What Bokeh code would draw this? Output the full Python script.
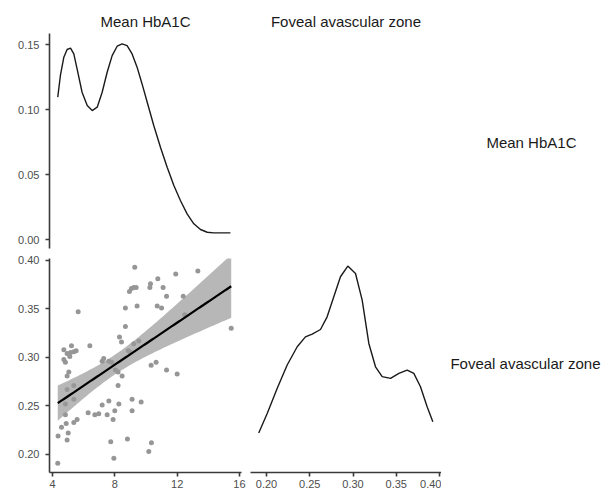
import numpy as np
from bokeh.plotting import figure
from bokeh.layouts import row, column
from bokeh.models import Range1d, FixedTicker, NumeralTickFormatter
from bokeh.embed import file_html
from bokeh.resources import INLINE
from bokeh.core.properties import value

# ---------------- data ----------------
var_names = ["Mean HbA1C", "Foveal avascular zone"]

hba1c = [4.34, 4.36, 4.58, 4.88, 5.01, 4.94, 4.83, 4.83, 4.94, 5.37,
         5.37, 5.37, 5.58, 6.29, 6.72, 6.97, 7.19, 7.51, 7.62, 7.89,
         8.00, 8.26, 9.11, 9.11, 9.69, 7.74, 7.94, 8.81, 10.35, 10.18,
         4.83, 5.05, 4.94, 4.73, 4.73, 4.94, 5.16, 5.22, 5.37, 5.52,
         5.11, 5.65, 6.40, 7.19, 7.29, 7.62, 7.79, 8.04, 8.21, 8.47,
         8.21, 8.30, 8.43, 8.68, 8.68, 8.94, 9.07, 9.22, 9.37, 9.28,
         9.43, 8.86, 8.96, 9.22, 9.54, 10.29, 10.25, 10.76, 11.10, 11.32,
         10.72, 11.00, 11.91, 12.39, 12.49, 13.33, 15.47, 10.33, 10.65, 11.32,
         12.00]

faz = [0.191, 0.219, 0.228, 0.232, 0.222, 0.215, 0.241, 0.252, 0.267, 0.257,
       0.271, 0.233, 0.236, 0.243, 0.241, 0.242, 0.251, 0.241, 0.255, 0.236,
       0.245, 0.252, 0.257, 0.245, 0.254, 0.213, 0.196, 0.216, 0.212, 0.203,
       0.295, 0.285, 0.281, 0.298, 0.308, 0.304, 0.305, 0.312, 0.306, 0.307,
       0.301, 0.347, 0.312, 0.296, 0.299, 0.296, 0.295, 0.287, 0.285, 0.281,
       0.271, 0.321, 0.316, 0.332, 0.351, 0.368, 0.371, 0.372, 0.372, 0.393,
       0.353, 0.307, 0.306, 0.314, 0.317, 0.376, 0.372, 0.381, 0.372, 0.363,
       0.353, 0.351, 0.386, 0.363, 0.344, 0.389, 0.330, 0.292, 0.295, 0.287,
       0.283]

hba_dens_x = [4.34, 4.51, 4.73, 4.94, 5.16, 5.37, 5.58, 5.90, 6.23, 6.55,
              6.87, 7.19, 7.51, 7.83, 8.15, 8.47, 8.79, 9.11, 9.43, 9.75,
              10.08, 10.50, 10.93, 11.36, 11.79, 12.21, 12.64, 13.07, 13.50,
              13.93, 14.35, 15.42]
hba_dens_y = [0.1095, 0.1262, 0.1403, 0.1462, 0.1472, 0.1428, 0.1313, 0.1133,
              0.1031, 0.0992, 0.1018, 0.1133, 0.1287, 0.1415, 0.1487, 0.1505,
              0.1492, 0.1428, 0.1326, 0.1197, 0.1056, 0.0877, 0.0710, 0.0556,
              0.0415, 0.0300, 0.0197, 0.0121, 0.0077, 0.0056, 0.0051, 0.0051]

faz_dens_x = [0.191, 0.2008, 0.2123, 0.2239, 0.2355, 0.245, 0.2528, 0.2624,
              0.2701, 0.2778, 0.2855, 0.294, 0.3029, 0.3106, 0.3183, 0.326,
              0.3337, 0.3434, 0.353, 0.3626, 0.3703, 0.378, 0.3857, 0.3923]
faz_dens_y = [1.64, 2.41, 3.39, 4.32, 5.04, 5.43, 5.54, 5.72, 6.22, 7.01,
              7.80, 8.22, 7.93, 6.88, 5.17, 4.25, 3.86, 3.79, 3.99, 4.12,
              3.99, 3.46, 2.67, 2.08]

hba_ticks = [4, 8, 12, 16]
faz_ticks = [0.20, 0.25, 0.30, 0.35, 0.40]
dens_ticks = [0.00, 0.05, 0.10, 0.15]

# ---------------- style ----------------
FONT = "Liberation Sans"
AXIS_COL = "#3a3a3a"
TICK_TXT = "#4d4d4d"
STRIP_TXT = "#1a1a1a"

def style_axis(axes, ticks, fmt, standoff):
    for ax in axes:
        ax.ticker = FixedTicker(ticks=ticks)
        ax.formatter = NumeralTickFormatter(format=fmt)
        ax.axis_line_color = AXIS_COL
        ax.axis_line_width = 1.6
        ax.major_tick_line_color = AXIS_COL
        ax.major_tick_line_width = 1.6
        ax.major_tick_out = 4
        ax.major_tick_in = 0
        ax.minor_tick_line_color = None
        ax.major_label_text_font = FONT
        ax.major_label_text_font_size = "11px"
        ax.major_label_text_color = TICK_TXT
        ax.major_label_standoff = standoff

def make_fig(title=None, **kw):
    p = figure(output_backend="svg", toolbar_location=None, title=title, **kw)
    p.outline_line_color = None
    p.grid.visible = False
    p.background_fill_color = "white"
    p.border_fill_color = "white"
    if title:
        p.title.align = "center"
        p.title.text_font = FONT
        p.title.text_font_size = "15px"
        p.title.text_font_style = "normal"
        p.title.text_color = STRIP_TXT
        p.title.standoff = 7
    return p

# column / row geometry (figure sizes and borders)
C1 = dict(width=246, min_border_left=49, min_border_right=5)
C2 = dict(width=195, min_border_left=4, min_border_right=0)
C3 = dict(width=172, min_border_left=0, min_border_right=0)
R1 = dict(height=252, min_border_top=33, min_border_bottom=4)
R2 = dict(height=240, min_border_top=6, min_border_bottom=20)

hba_range = Range1d(3.81, 16.13)
faz_range = Range1d(0.1815, 0.4023)

# ---- top-left: density of HbA1c ----
tl = make_fig(title=var_names[0], x_range=hba_range, y_range=Range1d(-0.0069, 0.1585),
              x_axis_location=None, **C1, **R1)
tl.line(hba_dens_x, hba_dens_y, line_color="#1a1a1a", line_width=1.4)
style_axis(tl.yaxis, dens_ticks, "0.00", 6)

# ---- top-right: blank panel with strip title ----
tr = make_fig(title=var_names[1], x_range=faz_range, y_range=Range1d(0, 1),
              x_axis_location=None, y_axis_location=None, **C2, **R1)

# ---- right strip labels ----
r1 = make_fig(x_range=Range1d(0, 1), y_range=Range1d(0, 1),
              x_axis_location=None, y_axis_location=None, **C3, **R1)
r1.text(x=[0.523], y=[0.493], text=[var_names[0]], text_align="center",
        text_baseline="middle", text_font=value(FONT), text_font_size="15px",
        text_color=STRIP_TXT)

# ---- bottom-left: scatter + lm ----
bl = make_fig(x_range=hba_range, y_range=Range1d(0.1814, 0.402), **C1, **R2)
x = np.array(hba1c)
y = np.array(faz)
n = len(x)
slope, intercept = np.polyfit(x, y, 1)
resid = y - (intercept + slope * x)
s = np.sqrt(np.sum(resid ** 2) / (n - 2))
sxx = np.sum((x - x.mean()) ** 2)
xs = np.linspace(x.min(), x.max(), 80)
fit = intercept + slope * xs
se = s * np.sqrt(1.0 / n + (xs - x.mean()) ** 2 / sxx)
t975 = 1.99
bl.scatter(hba1c, faz, size=5, fill_color="#969696", line_color=None)
bl.varea(x=xs, y1=fit - t975 * se, y2=fit + t975 * se, fill_color="#999999", fill_alpha=0.7)
bl.line(xs, fit, line_color="black", line_width=2.2)
style_axis(bl.xaxis, hba_ticks, "0", 3)
style_axis(bl.yaxis, faz_ticks, "0.00", 6)

# ---- bottom-right: density of FAZ ----
br = make_fig(x_range=faz_range, y_range=Range1d(0.08, 8.52), y_axis_location=None, **C2, **R2)
br.line(faz_dens_x, faz_dens_y, line_color="#1a1a1a", line_width=1.4)
style_axis(br.xaxis, faz_ticks, "0.00", 3)

r2 = make_fig(x_range=Range1d(0, 1), y_range=Range1d(0, 1),
              x_axis_location=None, y_axis_location=None, **C3, **R2)
r2.text(x=[0.488], y=[0.509], text=[var_names[1]], text_align="center",
        text_baseline="middle", text_font=value(FONT), text_font_size="15px",
        text_color=STRIP_TXT)

layout = column(row(tl, tr, r1), row(bl, br, r2))
open("out.html", "w").write(file_html(layout, INLINE))
